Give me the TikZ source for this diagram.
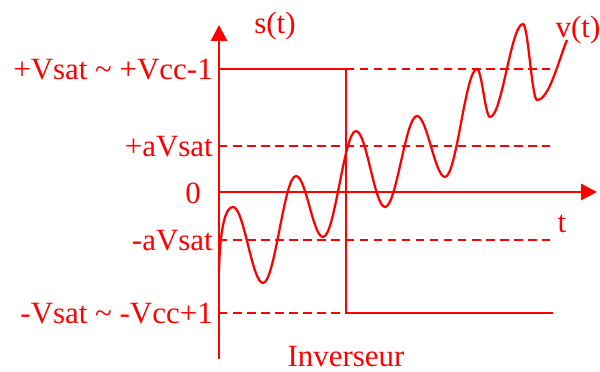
\documentclass[tikz,border=0pt]{standalone}
\usepackage{fontspec}
\setmainfont{Liberation Serif}
\newfontfamily\timesfont{Liberation Serif}
\usetikzlibrary{arrows.meta}
\tikzset{
  axe/.style={line width=2.1pt,-{Triangle[length=0.4cm,width=0.4cm]}},
  niveau/.style={line width=1.4pt,dash pattern=on 6pt off 4pt},
  signal/.style={line width=1.6pt},
  etiq/.style={inner sep=0pt}
}
\begin{document}
\begin{tikzpicture}[x=0.025cm,y=-0.025cm,red,font=\timesfont\fontsize{22}{26}\selectfont]
    \useasboundingbox (0,0) rectangle (600,372);
    \coordinate (O) at (219,192);
    \coordinate (bas) at (219,359);
    \coordinate (haut) at (219,25);
    \coordinate (droite) at (597,192);

    \foreach \y\lab in {
        69/{+Vsat \textasciitilde{} +Vcc-1},
        146/{+aVsat},
        240/{-aVsat},
        313/{-Vsat \textasciitilde{} -Vcc+1}}{
      \node[etiq,anchor=east] (lab\y) at (213,\y+1) {\lab};
      \coordinate (deb\y) at (219,\y);
      \coordinate (fin\y) at (550,\y);
      \draw[niveau] (deb\y) -- (fin\y);
    }
    \node[etiq] (zero) at (193,193) {0};

    \draw[axe] (bas) -- (haut);
    \draw[axe] (O) -- (droite);
    \node (st) at (275,26) {s(t)};
    \node (vt) at (578,30) {v(t)};
    \node (t) at (562,224) {t};
    \node (inv) at (346,357) {Inverseur};

    \coordinate (bascule) at (346,69);
    \draw[signal] (deb69) -- (bascule) -- (bascule |- deb313) -- (553,313);

    \draw[signal] (219,272)
      .. controls (220,225) and (226,207) .. (233,207)
      .. controls (244,207) and (252,283) .. (263,283)
      .. controls (275,283) and (284,176) .. (296,176)
      .. controls (306,176) and (313,237) .. (323,237)
      .. controls (335,237) and (344,131) .. (356,131)
      .. controls (366.5,131) and (374.5,207) .. (385,207)
      .. controls (396.5,207) and (405.5,116) .. (417,116)
      .. controls (427,116) and (435,177) .. (445,177)
      .. controls (456.5,177) and (465.5,69) .. (477,69)
      .. controls (481.7,69) and (485.3,117) .. (490,117)
      .. controls (502,117) and (511,24) .. (523,24)
      .. controls (528,24) and (532,100) .. (537,100)
      .. controls (549,100) and (558,62) .. (567,40);
\end{tikzpicture}
\end{document}
